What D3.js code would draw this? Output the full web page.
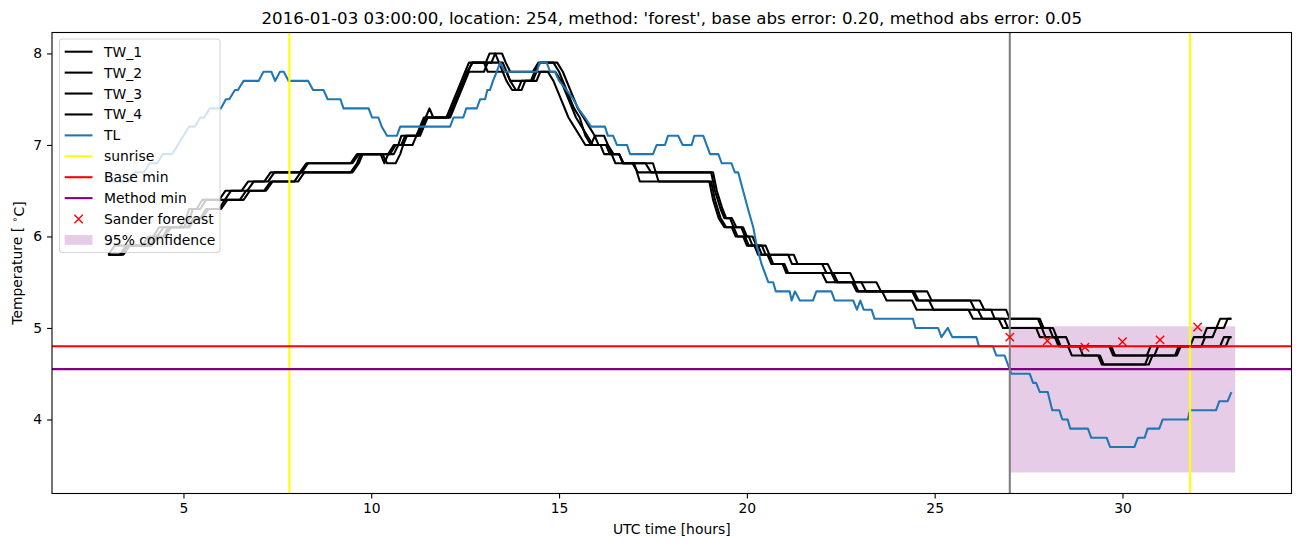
<!DOCTYPE html>
<html><head><meta charset="utf-8">
<script src="https://cdn.jsdelivr.net/npm/d3@7"></script>
<style>body{margin:0;background:#fff} text{font-family:"DejaVu Sans",sans-serif;fill:#000}</style>
</head><body><svg id="c" width="1302" height="547"></svg>
<script>
// ---------------- data ----------------
const titleText = "2016-01-03 03:00:00, location: 254, method: 'forest', base abs error: 0.20, method abs error: 0.05";
const tickX = [5, 10, 15, 20, 25, 30];
const tickY = [4, 5, 6, 7, 8];
const legendLabels = ["TW_1", "TW_2", "TW_3", "TW_4", "TL", "sunrise", "Base min", "Method min", "Sander forecast", "95% confidence"];

const TW_1 = [[3.0,5.8],[3.17,5.9],[3.9,5.9],[4.07,6.0],[4.2,6.0],[4.35,6.1],[4.9,6.1],[5.07,6.2],[5.15,6.3],[5.35,6.3],[5.5,6.4],[5.95,6.4],[6.12,6.5],[6.55,6.5],[6.72,6.6],[7.15,6.6],[7.32,6.7],[8.1,6.7],[8.27,6.8],[9.45,6.8],[9.62,6.9],[10.25,6.9],[10.35,6.8],[10.45,6.9],[10.6,6.9],[10.72,7.0],[10.8,7.1],[11.2,7.1],[11.33,7.2],[11.45,7.3],[11.55,7.4],[11.65,7.3],[12.0,7.3],[12.1,7.4],[12.2,7.5],[12.3,7.6],[12.4,7.7],[12.5,7.8],[12.6,7.9],[13.05,7.9],[13.15,8.0],[13.3,8.0],[13.4,7.9],[13.5,7.8],[13.6,7.7],[13.75,7.6],[13.9,7.6],[14.0,7.7],[14.25,7.7],[14.35,7.8],[14.5,7.9],[14.85,7.9],[15.0,7.8],[15.2,7.6],[15.4,7.4],[15.55,7.3],[15.7,7.1],[15.85,7.0],[15.95,7.1],[16.05,7.0],[16.25,7.0],[16.35,6.9],[16.6,6.9],[16.7,6.8],[16.95,6.8],[17.1,6.7],[19.05,6.7],[19.15,6.5],[19.3,6.3],[19.4,6.2],[19.55,6.2],[19.65,6.1],[19.85,6.1],[19.95,6.0],[20.05,6.0],[20.15,5.9],[20.4,5.9],[20.5,5.8],[21.1,5.8],[21.2,5.7],[22.15,5.7],[22.27,5.6],[22.75,5.6],[22.87,5.5],[23.05,5.5],[23.17,5.4],[24.8,5.4],[24.92,5.3],[26.2,5.3],[26.32,5.2],[26.9,5.2],[27.0,5.1],[27.8,5.1],[27.9,5.0],[28.15,5.0],[28.25,4.9],[28.5,4.9],[28.6,4.8],[29.65,4.8],[29.75,4.7],[30.65,4.7],[30.75,4.8],[31.8,4.8],[31.9,4.9],[32.15,4.9],[32.25,5.0],[32.5,5.0],[32.6,5.1],[32.9,5.1]];
const TW_2 = [[3.0,5.8],[3.3,5.8],[3.47,5.9],[4.0,5.9],[4.17,6.0],[4.3,6.0],[4.47,6.1],[5.0,6.1],[5.17,6.2],[5.25,6.3],[5.45,6.3],[5.6,6.4],[6.1,6.4],[6.27,6.5],[6.7,6.5],[6.87,6.6],[7.25,6.6],[7.42,6.7],[8.15,6.7],[8.32,6.8],[9.5,6.8],[9.67,6.9],[10.3,6.9],[10.42,6.8],[10.65,6.8],[10.77,6.9],[10.85,7.0],[10.95,7.1],[11.3,7.1],[11.4,7.2],[11.5,7.3],[12.05,7.3],[12.15,7.4],[12.25,7.5],[12.35,7.6],[12.45,7.7],[12.55,7.8],[12.7,7.9],[13.2,7.9],[13.3,8.0],[13.48,8.0],[13.58,7.9],[13.7,7.8],[14.3,7.8],[14.45,7.9],[14.95,7.9],[15.1,7.8],[15.3,7.6],[15.5,7.4],[15.65,7.3],[15.8,7.2],[15.95,7.1],[16.2,7.1],[16.3,7.0],[16.45,6.9],[16.6,6.9],[16.72,6.8],[17.3,6.8],[17.45,6.7],[19.1,6.7],[19.2,6.5],[19.35,6.3],[19.45,6.2],[19.6,6.2],[19.72,6.1],[19.9,6.1],[20.0,6.0],[20.15,6.0],[20.25,5.9],[20.5,5.9],[20.6,5.8],[21.25,5.8],[21.35,5.7],[22.0,5.7],[22.12,5.6],[22.3,5.6],[22.42,5.5],[23.45,5.5],[23.57,5.4],[24.45,5.4],[24.57,5.3],[25.95,5.3],[26.07,5.2],[26.5,5.2],[26.6,5.1],[27.75,5.1],[27.85,5.0],[28.05,5.0],[28.15,4.9],[28.25,4.9],[28.35,4.8],[29.7,4.8],[29.8,4.7],[31.4,4.7],[31.5,4.8],[32.1,4.8],[32.2,4.9],[32.4,4.9],[32.5,5.0],[32.7,5.0],[32.8,5.1],[32.9,5.1]];
const TW_3 = [[3.0,5.8],[3.35,5.8],[3.52,5.9],[4.1,5.9],[4.27,6.0],[4.45,6.0],[4.6,6.1],[5.1,6.1],[5.27,6.2],[5.45,6.2],[5.6,6.3],[5.95,6.3],[6.1,6.4],[6.5,6.4],[6.67,6.5],[7.15,6.5],[7.32,6.6],[7.95,6.6],[8.12,6.7],[9.45,6.7],[9.62,6.8],[9.72,6.9],[10.45,6.9],[10.6,7.0],[11.1,7.0],[11.2,7.1],[11.3,7.2],[11.4,7.3],[12.1,7.3],[12.2,7.4],[12.3,7.5],[12.4,7.6],[12.5,7.7],[12.6,7.8],[13.0,7.8],[13.1,7.9],[13.5,7.9],[13.6,7.8],[13.7,7.7],[13.85,7.6],[14.0,7.6],[14.1,7.7],[14.4,7.7],[14.5,7.8],[14.7,7.8],[14.85,7.7],[15.05,7.5],[15.25,7.3],[15.4,7.2],[15.55,7.1],[15.7,7.0],[16.1,7.0],[16.2,6.9],[16.4,6.9],[16.5,6.8],[17.5,6.8],[17.65,6.6],[19.0,6.6],[19.1,6.4],[19.25,6.2],[19.4,6.1],[19.6,6.1],[19.7,6.0],[19.9,6.0],[20.0,5.9],[20.2,5.9],[20.3,5.8],[20.6,5.8],[20.7,5.7],[21.0,5.7],[21.1,5.6],[22.0,5.6],[22.12,5.5],[22.85,5.5],[22.97,5.4],[23.6,5.4],[23.72,5.3],[24.4,5.3],[24.52,5.2],[25.9,5.2],[26.02,5.1],[26.7,5.1],[26.82,5.0],[27.7,5.0],[27.8,4.9],[28.2,4.9],[28.3,4.8],[28.55,4.8],[28.65,4.7],[29.35,4.7],[29.45,4.6],[30.6,4.6],[30.7,4.7],[30.85,4.7],[30.95,4.8],[32.6,4.8],[32.7,4.9],[32.9,4.9]];
const TW_4 = [[3.0,5.8],[3.4,5.8],[3.57,5.9],[4.15,5.9],[4.32,6.0],[4.5,6.0],[4.67,6.1],[5.15,6.1],[5.32,6.2],[5.5,6.2],[5.67,6.3],[6.0,6.3],[6.17,6.4],[6.6,6.4],[6.77,6.5],[7.2,6.5],[7.37,6.6],[8.05,6.6],[8.22,6.7],[9.5,6.7],[9.67,6.8],[9.77,6.9],[10.5,6.9],[10.65,7.0],[10.8,7.0],[10.9,7.1],[11.25,7.1],[11.35,7.2],[11.45,7.3],[12.05,7.3],[12.18,7.4],[12.28,7.5],[12.38,7.6],[12.48,7.7],[12.58,7.8],[12.68,7.9],[13.0,7.9],[13.1,7.8],[13.6,7.8],[13.7,7.7],[14.3,7.7],[14.4,7.8],[14.9,7.8],[15.05,7.7],[15.25,7.5],[15.45,7.3],[15.6,7.2],[15.75,7.1],[15.9,7.0],[16.3,7.0],[16.4,6.9],[16.6,6.9],[16.7,6.8],[17.0,6.8],[17.15,6.6],[19.05,6.6],[19.15,6.4],[19.3,6.2],[19.45,6.1],[19.65,6.1],[19.75,6.0],[19.95,6.0],[20.05,5.9],[20.3,5.9],[20.4,5.8],[20.55,5.8],[20.65,5.7],[20.95,5.7],[21.05,5.6],[22.25,5.6],[22.37,5.5],[22.8,5.5],[22.92,5.4],[24.4,5.4],[24.52,5.3],[24.85,5.3],[24.97,5.2],[26.15,5.2],[26.27,5.1],[26.85,5.1],[26.95,5.0],[27.85,5.0],[27.95,4.9],[28.25,4.9],[28.35,4.8],[28.85,4.8],[28.95,4.7],[29.4,4.7],[29.5,4.6],[30.7,4.6],[30.8,4.7],[31.45,4.7],[31.55,4.8],[32.75,4.8],[32.85,4.9],[32.9,4.9]];
const TL = [[3.0,6.6],[3.55,6.6],[3.7,6.7],[3.95,6.7],[4.1,6.8],[4.3,6.8],[4.45,6.9],[4.7,6.9],[4.85,7.0],[5.0,7.1],[5.15,7.2],[5.3,7.2],[5.45,7.3],[5.55,7.3],[5.7,7.4],[6.0,7.4],[6.13,7.5],[6.22,7.5],[6.37,7.6],[6.45,7.6],[6.6,7.7],[7.0,7.7],[7.13,7.8],[7.34,7.8],[7.44,7.7],[7.57,7.8],[7.67,7.8],[7.8,7.7],[8.32,7.7],[8.45,7.6],[8.73,7.6],[8.84,7.5],[9.18,7.5],[9.26,7.4],[9.93,7.4],[10.02,7.3],[10.19,7.3],[10.28,7.2],[10.42,7.1],[10.68,7.1],[10.77,7.2],[12.1,7.2],[12.19,7.3],[12.45,7.3],[12.53,7.4],[12.81,7.4],[12.9,7.5],[13.03,7.5],[13.09,7.6],[13.16,7.6],[13.24,7.7],[13.34,7.8],[13.43,7.9],[13.56,7.8],[14.41,7.8],[14.48,7.9],[14.67,7.9],[14.76,7.8],[14.89,7.8],[15.0,7.7],[15.2,7.6],[15.38,7.5],[15.51,7.4],[15.69,7.3],[15.85,7.2],[16.22,7.2],[16.3,7.1],[16.44,7.1],[16.54,7.0],[16.81,7.0],[16.89,6.9],[17.5,6.9],[17.6,7.0],[17.82,7.0],[17.9,7.1],[18.17,7.1],[18.29,7.0],[18.53,7.0],[18.6,7.1],[18.84,7.1],[19.02,6.9],[19.24,6.9],[19.33,6.8],[19.59,6.8],[19.68,6.7],[19.77,6.7],[19.9,6.5],[20.03,6.3],[20.17,6.1],[20.26,5.9],[20.39,5.7],[20.57,5.5],[20.7,5.5],[20.77,5.4],[21.14,5.4],[21.19,5.3],[21.28,5.4],[21.41,5.3],[21.76,5.3],[21.85,5.4],[22.25,5.4],[22.34,5.3],[22.83,5.3],[22.93,5.2],[23.02,5.3],[23.11,5.2],[23.32,5.2],[23.4,5.1],[24.42,5.1],[24.49,5.0],[25.09,5.0],[25.18,4.9],[25.35,5.0],[25.47,4.9],[26.11,4.9],[26.18,4.8],[26.55,4.8],[26.64,4.7],[26.86,4.7],[26.95,4.6],[27.04,4.5],[27.53,4.5],[27.62,4.4],[27.7,4.4],[27.8,4.3],[28.01,4.3],[28.13,4.1],[28.32,4.1],[28.4,4.0],[28.54,4.0],[28.61,3.9],[29.08,3.9],[29.17,3.8],[29.58,3.8],[29.67,3.7],[30.32,3.7],[30.41,3.8],[30.59,3.8],[30.67,3.9],[30.98,3.9],[31.07,4.0],[31.74,4.0],[31.8,4.1],[32.49,4.1],[32.58,4.2],[32.8,4.2],[32.9,4.3]];

const sunriseHours = [7.82, 31.8];
const forecastHour = 27.0;
const baseMin = 4.80;
const methodMin = 4.55;
const sanderHours = [27, 28, 29, 30, 31, 32];
const sanderValues = [4.90, 4.86, 4.79, 4.85, 4.87, 5.01];
const confHours = [27, 33];
const confLow = [3.42, 3.42];
const confHigh = [5.02, 5.02];

// ---------------- layout / styles ----------------
const svg = d3.select("#c");
const L = 52, R = 1291.5, T = 32.5, B = 493.5;
const twSeries = [TW_1, TW_2, TW_3, TW_4];

const allX = twSeries.flat().map(d => d[0]).concat(TL.map(d => d[0]), confHours, sanderHours);
const allY = twSeries.flat().map(d => d[1]).concat(TL.map(d => d[1]), confLow, confHigh, sanderValues);
const [x0, x1] = d3.extent(allX), [y0, y1] = d3.extent(allY);
const px = (x1 - x0) * 0.05, py = (y1 - y0) * 0.05;
const x = d3.scaleLinear().domain([x0 - px, x1 + px]).range([L, R]);
const y = d3.scaleLinear().domain([y0 - py, y1 + py]).range([B, T]);

svg.append("defs").append("clipPath").attr("id", "clip")
  .append("rect").attr("x", L).attr("y", T).attr("width", R - L).attr("height", B - T);
const plot = svg.append("g").attr("clip-path", "url(#clip)");

const LW = 2.08;
// confidence band
const band = d3.area().x((d, i) => x(confHours[i])).y0((d, i) => y(confLow[i])).y1((d, i) => y(confHigh[i]));
plot.append("path").datum(confHours).attr("d", band).attr("fill", "purple").attr("fill-opacity", 0.2);

const line = d3.line().x(d => x(d[0])).y(d => y(d[1]));
twSeries.forEach(s => plot.append("path").datum(s).attr("d", line)
  .attr("fill", "none").attr("stroke", "#000").attr("stroke-width", LW).attr("stroke-linejoin", "round"));
plot.append("path").datum(TL).attr("d", line)
  .attr("fill", "none").attr("stroke", "#1f77b4").attr("stroke-width", LW).attr("stroke-linejoin", "round");

sunriseHours.forEach(h => plot.append("line").attr("x1", x(h)).attr("x2", x(h)).attr("y1", T).attr("y2", B)
  .attr("stroke", "yellow").attr("stroke-width", LW));
plot.append("line").attr("x1", L).attr("x2", R).attr("y1", y(baseMin)).attr("y2", y(baseMin))
  .attr("stroke", "red").attr("stroke-width", LW);
plot.append("line").attr("x1", L).attr("x2", R).attr("y1", y(methodMin)).attr("y2", y(methodMin))
  .attr("stroke", "purple").attr("stroke-width", LW);
plot.append("line").attr("x1", x(forecastHour)).attr("x2", x(forecastHour)).attr("y1", T).attr("y2", B)
  .attr("stroke", "grey").attr("stroke-width", LW);

const ms = 4.2;
function xMarker(g, cx, cy) {
  g.append("path").attr("d", `M${cx - ms},${cy - ms}L${cx + ms},${cy + ms}M${cx - ms},${cy + ms}L${cx + ms},${cy - ms}`)
    .attr("stroke", "red").attr("stroke-width", 1.4).attr("fill", "none");
}
sanderHours.forEach((h, i) => xMarker(plot, x(h), y(sanderValues[i])));

// frame
svg.append("rect").attr("x", L).attr("y", T).attr("width", R - L).attr("height", B - T)
  .attr("fill", "none").attr("stroke", "#000").attr("stroke-width", 1.1);

// axes
const fs = 13.9;
const ax = svg.append("g").attr("transform", `translate(0,${B})`)
  .call(d3.axisBottom(x).tickValues(tickX).tickFormat(d3.format("d")).tickSize(4.9).tickPadding(4.9));
const ay = svg.append("g").attr("transform", `translate(${L},0)`)
  .call(d3.axisLeft(y).tickValues(tickY).tickFormat(d3.format("d")).tickSize(4.9).tickPadding(4.9));
[ax, ay].forEach(a => {
  a.select(".domain").remove();
  a.selectAll("line").attr("stroke", "#000").attr("stroke-width", 1.1);
  a.selectAll("text").attr("font-size", fs).attr("font-family", "DejaVu Sans").attr("fill", "#000");
});

svg.append("text").attr("x", (L + R) / 2).attr("y", 24).attr("text-anchor", "middle")
  .attr("font-size", 16.67).text(titleText);
svg.append("text").attr("x", (L + R) / 2).attr("y", 534).attr("text-anchor", "middle")
  .attr("font-size", fs).text("UTC time [hours]");
const yl = svg.append("text").attr("transform", `translate(22,${(T + B) / 2}) rotate(-90)`)
  .attr("text-anchor", "middle").attr("font-size", fs);
yl.append("tspan").text("Temperature [ ");
yl.append("tspan").attr("dy", "-0.42em").attr("font-size", 9.7).text("∘");
yl.append("tspan").attr("dy", "0.42em").text("C]");

// legend
const lg = svg.append("g");
lg.append("rect").attr("x", 59.5).attr("y", 39).attr("width", 160.5).attr("height", 213.5).attr("rx", 3)
  .attr("fill", "#fff").attr("fill-opacity", 0.8).attr("stroke", "#cccccc").attr("stroke-opacity", 0.8).attr("stroke-width", 1.1);
const legendStyle = [
  {t: "line", c: "#000"}, {t: "line", c: "#000"}, {t: "line", c: "#000"}, {t: "line", c: "#000"},
  {t: "line", c: "#1f77b4"}, {t: "line", c: "yellow"}, {t: "line", c: "red"}, {t: "line", c: "purple"},
  {t: "marker", c: "red"}, {t: "patch", c: "purple"}
];
legendLabels.forEach((lab, i) => {
  const cy = 51.7 + i * 20.92;
  const st = legendStyle[i];
  if (st.t === "line") lg.append("line").attr("x1", 64.7).attr("x2", 92.5).attr("y1", cy).attr("y2", cy)
    .attr("stroke", st.c).attr("stroke-width", LW);
  else if (st.t === "marker") xMarker(lg, 78.6, cy);
  else lg.append("rect").attr("x", 64.7).attr("y", cy - 4.9).attr("width", 27.8).attr("height", 9.7)
    .attr("fill", st.c).attr("fill-opacity", 0.2);
  lg.append("text").attr("x", 104).attr("y", cy).attr("dy", "0.36em").attr("font-size", fs).text(lab);
});
</script></body></html>
